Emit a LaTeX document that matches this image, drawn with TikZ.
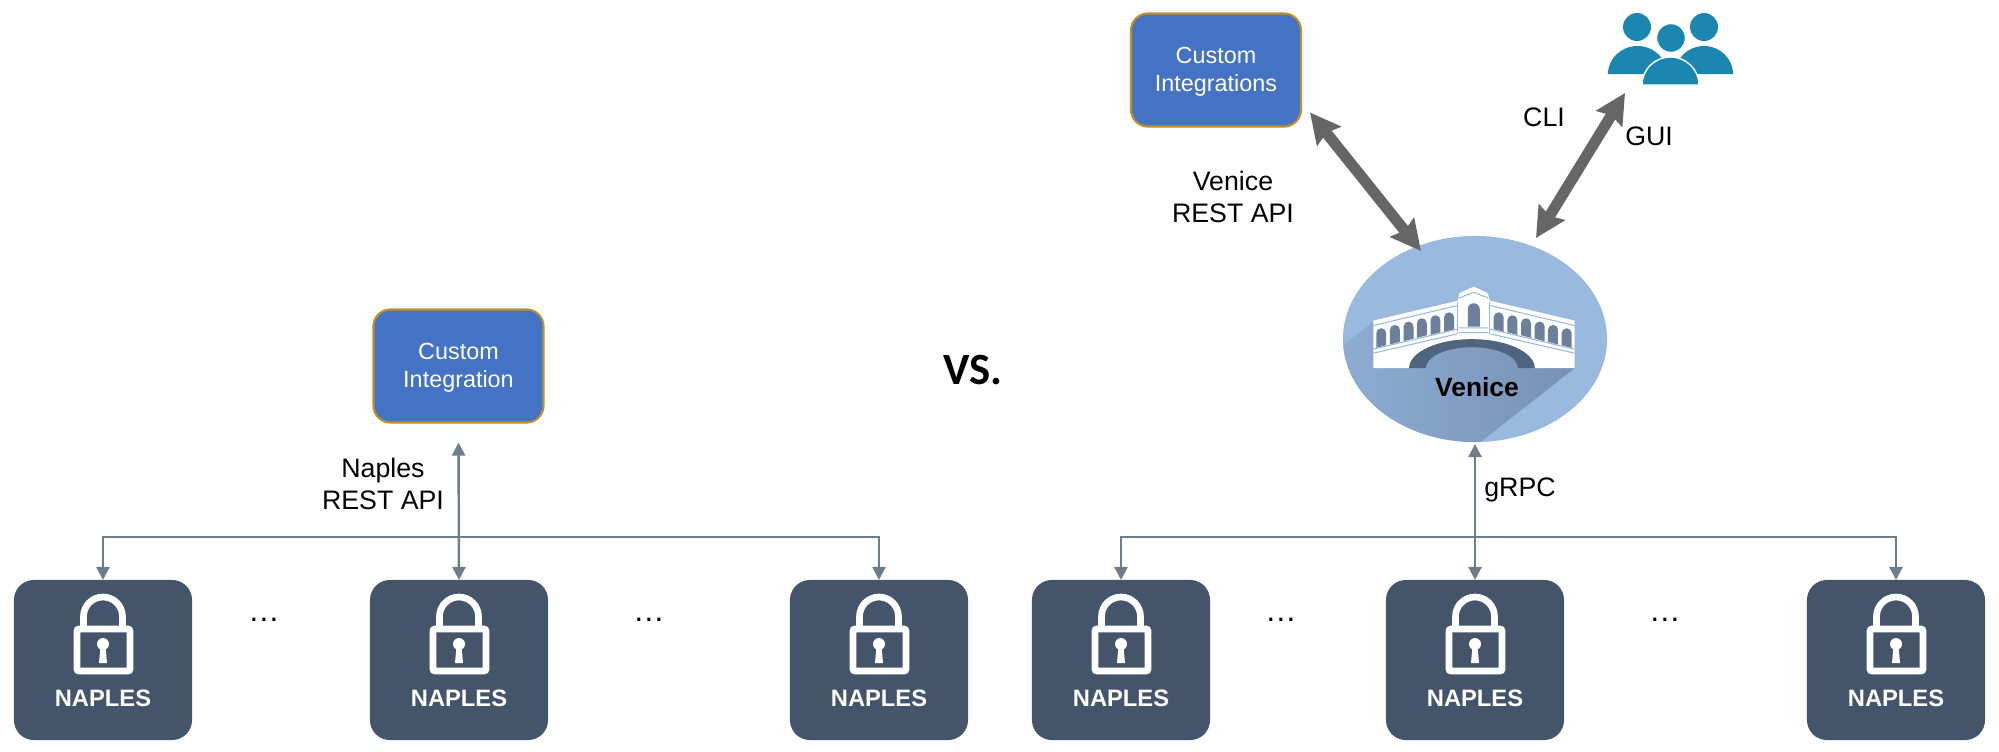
\documentclass[tikz,border=0pt]{standalone}
\usepackage{fontspec}
\setmainfont{Liberation Sans}
\newfontfamily\vsfont{Carlito}
\usetikzlibrary{arrows.meta, positioning, calc, shapes.geometric}

\definecolor{naplesblue}{HTML}{44546A}
\definecolor{customblue}{HTML}{4472C4}
\definecolor{customedge}{HTML}{BF8F2A}
\definecolor{venicefill}{HTML}{9AB9DF}
\definecolor{linegray}{HTML}{6D7E8A}
\definecolor{thickgray}{HTML}{666666}
\definecolor{peopleblue}{HTML}{1B87B0}
\definecolor{archdark}{HTML}{4E6480}
\definecolor{winfill}{HTML}{6C809C}
\definecolor{shadowa}{HTML}{8FADD4}
\definecolor{shadowb}{HTML}{7691B3}

\tikzset{
  naples/.style={fill=naplesblue, rounded corners=2mm, minimum width=1.78cm, minimum height=1.6cm, inner sep=0pt, outer sep=0pt},
  custom/.style={draw=customedge, line width=0.6pt, fill=customblue, rounded corners=1.7mm, minimum width=1.7cm, minimum height=1.13cm, inner sep=0pt, outer sep=0pt},
  customtxt/.style={text=white, align=center, inner sep=0pt, font=\fontsize{6.65}{8.1}\selectfont, yshift=-0.02cm},
  lbl/.style={align=center, font=\fontsize{7.6}{9.1}\selectfont, inner sep=0pt},
  conn/.style={draw=linegray, line width=0.7pt, -{Triangle[length=1.3mm, width=1.3mm]}},
  bigarrow/.style={draw=thickgray, line width=1.1mm, {Stealth[length=3mm, width=3mm, inset=0.4mm]}-{Stealth[length=3mm, width=3mm, inset=0.4mm]}},
  lock/.pic={
    \draw[white, line width=1.9pt, rounded corners=0.2mm] (-26,-31) rectangle (27,11);
    \draw[white, line width=1.9pt] (-19.5,-31) -- (-19.5,-43.5) arc[start angle=180, end angle=360, radius=19.5] -- (19.5,-31);
    \fill[white] (0,-16) circle[radius=6];
    \fill[white] (-2.5,-14) -- (2.5,-14) -- (4,3) -- (-4,3) -- cycle;
    \node[text=white, inner sep=0pt, font=\fontsize{6.75}{8}\selectfont\bfseries] (-txt) at (0,38) {NAPLES};
  },
}

\begin{document}
\begin{tikzpicture}[x=0.01cm, y=-0.01cm]
\useasboundingbox (0,0) rectangle (1999,751);

% naples boxes
\foreach \nm/\cx in {n1/103, n2/459, n3/879, n4/1121, n5/1475, n6/1896} {
  \node[naples] (\nm) at (\cx,660) {};
  \pic (\nm) at (\nm.center) {lock};
}

\node[custom] (ci) at (458.5,366) {};
\node[customtxt] (citxt) at (ci.center) {Custom\\Integration};
\node[custom] (cis) at (1216,70) {};
\node[customtxt] (cistxt) at (cis.center) {Custom\\Integrations};

% venice with its shadow and bridge
\node[ellipse, fill=venicefill, minimum width=2.64cm, minimum height=2.06cm, inner sep=0pt, outer sep=0pt] (ven) at (1475,339) {};
\begin{scope}
  \clip (1475,339) ellipse[x radius=132, y radius=103];
  \begin{scope}[shift={(1320,260)}, x=0.00333cm, y=-0.00333cm]
    \shade[left color=shadowa, right color=shadowb] (160,185) -- (40,280) -- (40,600) -- (485,600) -- (485,545) -- (765,325) -- cycle;
  \end{scope}
\end{scope}
\begin{scope}[shift={(1320,260)}, x=0.00333cm, y=-0.00333cm]
  \fill[white] (160,182) -- (415,122) -- (418,100) -- (462,80) -- (505,100) -- (510,122) -- (765,182) -- (765,325) -- (645,325)
    arc[start angle=0, end angle=-180, x radius=188.5, y radius=87] -- (160,325) -- cycle;
  \fill[archdark] (645,325) arc[start angle=0, end angle=-180, x radius=188.5, y radius=87] -- (318,325)
    arc[start angle=180, end angle=360, x radius=138.5, y radius=63] -- cycle;
  \foreach \wx/\wb/\ws in {184/260/-4, 225/250/-4, 266/240/-4, 306/230/-4, 347/221/-4, 388/212/-4, 537/212/4, 578/221/4, 619/230/4, 660/240/4, 700/250/4, 741/260/4} {
    \fill[winfill] (\wx-15,\wb-\ws) -- (\wx-15,\wb-40) arc[start angle=180, end angle=360, radius=15] -- (\wx+15,\wb+\ws) -- cycle;
  }
  \fill[winfill] (444,200) -- (444,148) arc[start angle=180, end angle=360, radius=18] -- (480,200) -- cycle;
  \draw[venicefill, line width=0.3pt] (160,197) -- (412,137) (512,137) -- (765,197);
  \draw[venicefill, line width=0.3pt] (160,268) -- (412,208) (512,208) -- (765,268) (160,280) -- (412,222) (512,222) -- (765,280);
  \draw[venicefill, line width=0.3pt] (418,204) -- (505,204) (418,218) -- (505,218) (418,114) -- (462,97) -- (505,114);
  \draw[venicefill, line width=0.3pt] (414,125) -- (414,222) (510,125) -- (510,222);
\end{scope}
\node[font=\fontsize{7.5}{9}\selectfont\bfseries, inner sep=0pt] (vlabel) at (1477,387) {Venice};

% people
\fill[peopleblue] (1637,27) circle[radius=14];
\fill[peopleblue] (1704,27) circle[radius=14];
\fill[peopleblue] (1608,74) arc[start angle=180, end angle=360, x radius=29.5, y radius=28] -- cycle;
\fill[peopleblue] (1675,74) arc[start angle=180, end angle=360, x radius=29, y radius=28] -- cycle;
\filldraw[fill=peopleblue, draw=white, line width=0.4pt] (1642,85) arc[start angle=180, end angle=360, x radius=28.5, y radius=28] -- cycle;
\filldraw[fill=peopleblue, draw=white, line width=0.4pt] (1671,38) circle[radius=14.5];

% connectors
\coordinate (busl) at (459,537);
\coordinate (busr) at (1475,537);
\draw[conn] (busl) -| (n1.north);
\draw[conn] (busl) -| (n3.north);
\draw[conn, {Triangle[length=1.3mm, width=1.3mm]}-{Triangle[length=1.3mm, width=1.3mm]}, shorten <=0.2cm] (ci.south) -- (n2.north);
\draw[conn] (busr) -| (n4.north);
\draw[conn] (busr) -| (n6.north);
\draw[conn, {Triangle[length=1.3mm, width=1.3mm]}-{Triangle[length=1.3mm, width=1.3mm]}, shorten <=0.02cm] (ven.south) -- (n5.north);
\draw[bigarrow] ([shift={(9,-14)}]cis.south east) -- ([shift={(-54,-88)}]ven.center);
\draw[bigarrow] ([shift={(61,-101)}]ven.center) -- (1625,93);

% labels
\node[lbl] (naplesapi) at (383,484) {Naples\\REST API};
\node[lbl] (veniceapi) at (1233,197) {Venice\\REST API};
\node[lbl] (cli) at (1544,117) {CLI};
\node[lbl] (gui) at (1649,136) {GUI};
\node[lbl] (grpc) at (1520,490) {gRPC};
\node[font=\fontsize{12.7}{15}\selectfont\vsfont\bfseries, inner sep=0pt] (vs) at (973,370) {VS.};

\foreach \nm/\cx in {d1/264, d2/649, d3/1281, d4/1665} {
  \node[font=\fontsize{9}{11}\selectfont, inner sep=0pt] (\nm) at (\cx,620) {…};
}
\end{tikzpicture}
\end{document}
